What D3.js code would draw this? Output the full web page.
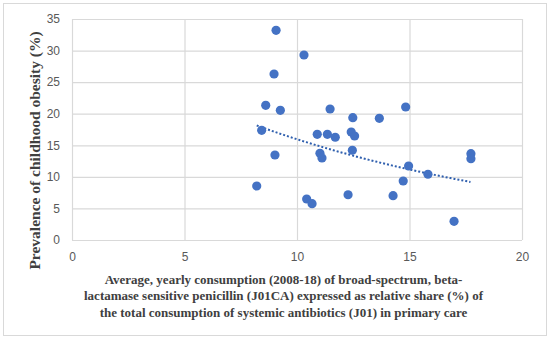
<!DOCTYPE html>
<meta charset="utf-8">
<style>
body { margin: 0; background: #fff; }
.tick text { font-family: "Liberation Sans", Arial, sans-serif; font-size: 12px; fill: #595959; }
.title { font-family: "Liberation Serif", "Times New Roman", serif; font-weight: bold; fill: #404040; }
</style>
<script src="https://d3js.org/d3.v7.min.js"></script>
<div id="chart"></div>
<script>
// consumption share (%) per country
var share = [8.21, 8.43, 8.61, 8.98, 9.07, 9.02, 9.26, 10.31, 10.43, 10.67,
             10.90, 11.02, 11.11, 11.47, 11.35, 11.70, 12.27, 12.48, 12.41, 12.56,
             12.46, 13.66, 14.27, 14.72, 14.83, 14.96, 15.82, 16.98, 17.73, 17.73];
// prevalence of childhood obesity (%)
var obesity = [8.55, 17.37, 21.33, 26.29, 33.21, 13.46, 20.54, 29.30, 6.49, 5.75,
               16.74, 13.73, 12.99, 20.75, 16.74, 16.27, 7.17, 19.37, 17.10, 16.47,
               14.21, 19.27, 7.02, 9.34, 21.06, 11.72, 10.41, 2.96, 13.67, 12.88];
var xTicks = [0, 5, 10, 15, 20];
var yTicks = [0, 5, 10, 15, 20, 25, 30, 35];
var xTitle = ["Average, yearly consumption (2008-18) of broad-spectrum, beta-",
              "lactamase sensitive penicillin (J01CA) expressed as relative share (%) of",
              "the total consumption of systemic antibiotics (J01) in primary care"];
var yTitle = "Prevalence of childhood obesity (%)";

var W = 550, H = 339;
var svg = d3.select("#chart").append("svg").attr("width", W).attr("height", H);

svg.append("rect").attr("x", 3.5).attr("y", 3.5).attr("width", 543).attr("height", 332)
  .attr("fill", "#fff").attr("stroke", "#d9d9d9");

var x = d3.scaleLinear().domain([0, 20]).range([72, 522]);
var y = d3.scaleLinear().domain([0, 35]).range([240, 19]);

// grid
svg.append("g").selectAll("line").data(yTicks).enter().append("line")
  .attr("x1", x(0)).attr("x2", x(20))
  .attr("y1", function(d) { return y(d) + 0.5; }).attr("y2", function(d) { return y(d) + 0.5; })
  .attr("stroke", "#d9d9d9").attr("stroke-width", 1.2);
svg.append("g").selectAll("line").data(xTicks).enter().append("line")
  .attr("y1", y(0)).attr("y2", y(35))
  .attr("x1", function(d) { return x(d) + 0.5; }).attr("x2", function(d) { return x(d) + 0.5; })
  .attr("stroke", "#d9d9d9").attr("stroke-width", 1.2);

// axes (labels only)
svg.append("g").attr("transform", "translate(0," + y(0) + ")")
  .call(d3.axisBottom(x).tickValues(xTicks).tickSize(0).tickPadding(12));
svg.append("g").attr("transform", "translate(" + x(0) + ",0)")
  .call(d3.axisLeft(y).tickValues(yTicks).tickSize(0).tickPadding(12));
svg.selectAll(".domain").remove();

// exponential trendline, least squares on ln(y)
var n = share.length, sx = 0, sy = 0, sxx = 0, sxy = 0;
for (var i = 0; i < n; i++) {
  var ly = Math.log(obesity[i]);
  sx += share[i]; sy += ly; sxx += share[i] * share[i]; sxy += share[i] * ly;
}
var b = (n * sxy - sx * sy) / (n * sxx - sx * sx);
var a = Math.exp((sy - b * sx) / n);
var xs = d3.range(d3.min(share), d3.max(share) + 0.001, 0.1);
svg.append("path")
  .datum(xs)
  .attr("d", d3.line().x(function(d) { return x(d); }).y(function(d) { return y(a * Math.exp(b * d)); }))
  .attr("fill", "none").attr("stroke", "#2f5fae").attr("stroke-width", 2)
  .attr("stroke-dasharray", "2,2");

// points
svg.append("g").selectAll("circle").data(share).enter().append("circle")
  .attr("cx", function(d) { return x(d); })
  .attr("cy", function(d, i) { return y(obesity[i]); })
  .attr("r", 4.6).attr("fill", "#4472c4");

// titles
svg.append("text").attr("class", "title")
  .attr("transform", "translate(40,150.5) rotate(-90)")
  .attr("text-anchor", "middle").style("font-size", "15.5px")
  .text(yTitle);
svg.append("g").selectAll("text").data(xTitle).enter().append("text")
  .attr("class", "title")
  .attr("x", 283.5).attr("y", function(d, i) { return 284 + i * 16.3; })
  .attr("text-anchor", "middle").style("font-size", "13px")
  .text(function(d) { return d; });
</script>
